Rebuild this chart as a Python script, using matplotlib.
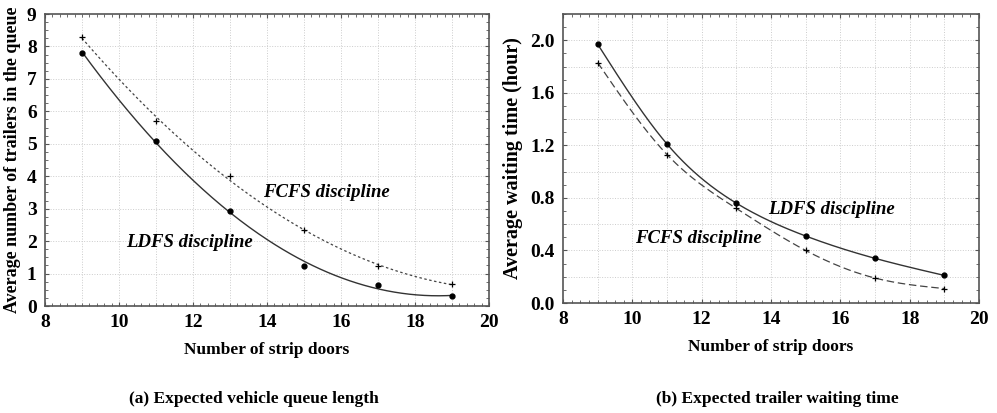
import numpy as np
import matplotlib
matplotlib.use('Agg')
import matplotlib.pyplot as plt
from matplotlib.ticker import MultipleLocator

plt.rcParams['font.family'] = 'Liberation Serif'
plt.rcParams['font.weight'] = 'bold'

# data
doors = [9, 11, 13, 15, 17, 19]
queue_ldfs = [7.8, 5.1, 2.92, 1.22, 0.65, 0.3]
queue_fcfs = [8.3, 5.7, 4.0, 2.35, 1.22, 0.68]
wait_ldfs = [1.97, 1.21, 0.76, 0.51, 0.34, 0.21]
wait_fcfs = [1.83, 1.13, 0.72, 0.40, 0.19, 0.11]


def spline(x, y, xs):
    # natural cubic spline through the points
    x = np.asarray(x, float)
    y = np.asarray(y, float)
    n = len(x)
    h = np.diff(x)
    A = np.zeros((n, n))
    b = np.zeros(n)
    A[0, 0] = A[-1, -1] = 1
    for i in range(1, n - 1):
        A[i, i - 1] = h[i - 1]
        A[i, i] = 2 * (h[i - 1] + h[i])
        A[i, i + 1] = h[i]
        b[i] = 6 * ((y[i + 1] - y[i]) / h[i] - (y[i] - y[i - 1]) / h[i - 1])
    M = np.linalg.solve(A, b)
    out = np.empty_like(xs)
    for k, t in enumerate(xs):
        i = min(np.searchsorted(x, t) - 1, n - 2)
        i = max(i, 0)
        a, c = x[i], x[i + 1]
        hi = c - a
        out[k] = (M[i] * (c - t) ** 3 / (6 * hi) + M[i + 1] * (t - a) ** 3 / (6 * hi)
                  + (y[i] / hi - M[i] * hi / 6) * (c - t)
                  + (y[i + 1] / hi - M[i + 1] * hi / 6) * (t - a))
    return out


fig = plt.figure(figsize=(9.97, 4.13), dpi=100)
ax1 = fig.add_axes([0.0451, 0.259, 0.4454, 0.707])
ax2 = fig.add_axes([0.5647, 0.2663, 0.4173, 0.6998])

xs = np.linspace(9, 19, 200)
grid_kw = dict(color='#cccccc', lw=0.7, ls=':', zorder=0)

# (a) queue length, quadratic fits
for v in range(9, 20):
    ax1.axvline(v, **grid_kw)
for v in range(1, 9):
    ax1.axhline(v, **grid_kw)
p_l = np.polyfit(doors, queue_ldfs, 2)
p_f = np.polyfit(doors, queue_fcfs, 2)
ax1.plot(xs, np.polyval(p_l, xs), color='#333333', lw=1.0)
ax1.plot(xs, np.polyval(p_f, xs), color='#444444', lw=0.9, ls=(0, (2, 2)))
ax1.plot(doors, queue_ldfs, 'o', color='black', ms=3.5)
ax1.plot(doors, queue_fcfs, '+', color='black', ms=5, mew=0.9)
ax1.set_xlim(8, 20)
ax1.set_ylim(0, 9)
ax1.xaxis.set_major_locator(MultipleLocator(2))
ax1.xaxis.set_minor_locator(MultipleLocator(0.2))
ax1.yaxis.set_major_locator(MultipleLocator(1))
ax1.yaxis.set_minor_locator(MultipleLocator(0.25))
ax1.set_ylabel('Average number of trailers in the queue', fontsize=13, fontweight='bold', labelpad=4)
ax1.text(15.6, 3.5, 'FCFS discipline', style='italic', fontsize=13.5, ha='center', va='center')
ax1.text(11.9, 1.97, 'LDFS discipline', style='italic', fontsize=13.5, ha='center', va='center')

# (b) waiting time, smooth curves through the points
for v in range(9, 20):
    ax2.axvline(v, **grid_kw)
for v in np.arange(0.2, 2.2, 0.2):
    ax2.axhline(v, **grid_kw)
ax2.plot(xs, spline(doors, wait_ldfs, xs), color='#333333', lw=1.0)
ax2.plot(xs, spline(doors, wait_fcfs, xs), color='#444444', lw=0.9, ls=(0, (6, 3)))
ax2.plot(doors, wait_ldfs, 'o', color='black', ms=3.5)
ax2.plot(doors, wait_fcfs, '+', color='black', ms=5, mew=0.9)
ax2.set_xlim(8, 20)
ax2.set_ylim(0, 2.2)
ax2.xaxis.set_major_locator(MultipleLocator(2))
ax2.xaxis.set_minor_locator(MultipleLocator(0.25))
ax2.yaxis.set_major_locator(MultipleLocator(0.4))
ax2.yaxis.set_minor_locator(MultipleLocator(0.1))
ax2.yaxis.set_major_formatter(plt.FormatStrFormatter('%.1f'))
ax2.set_ylabel('Average waiting time (hour)', fontsize=14.5, fontweight='bold', labelpad=5)
ax2.text(15.75, 0.715, 'LDFS discipline', style='italic', fontsize=13.5, ha='center', va='center')
ax2.text(11.9, 0.49, 'FCFS discipline', style='italic', fontsize=13.5, ha='center', va='center')

for ax in (ax1, ax2):
    for s in ax.spines.values():
        s.set_color('#555555')
        s.set_linewidth(1.2)
    ax.tick_params(which='both', direction='in', top=True, right=True, color='#555555')
    ax.tick_params(which='major', length=3, labelsize=14, pad=6)
    ax.tick_params(which='minor', length=2)
    for lab in ax.get_xticklabels() + ax.get_yticklabels():
        lab.set_fontweight('bold')
    ax.set_xlabel('Number of strip doors', fontsize=12.5, fontweight='bold', labelpad=8)

fig.text(0.255, 0.025, '(a) Expected vehicle queue length', ha='center', fontsize=12.5, fontweight='bold')
fig.text(0.78, 0.025, '(b) Expected trailer waiting time', ha='center', fontsize=12.5, fontweight='bold')

fig.savefig('out.png', dpi=100)
